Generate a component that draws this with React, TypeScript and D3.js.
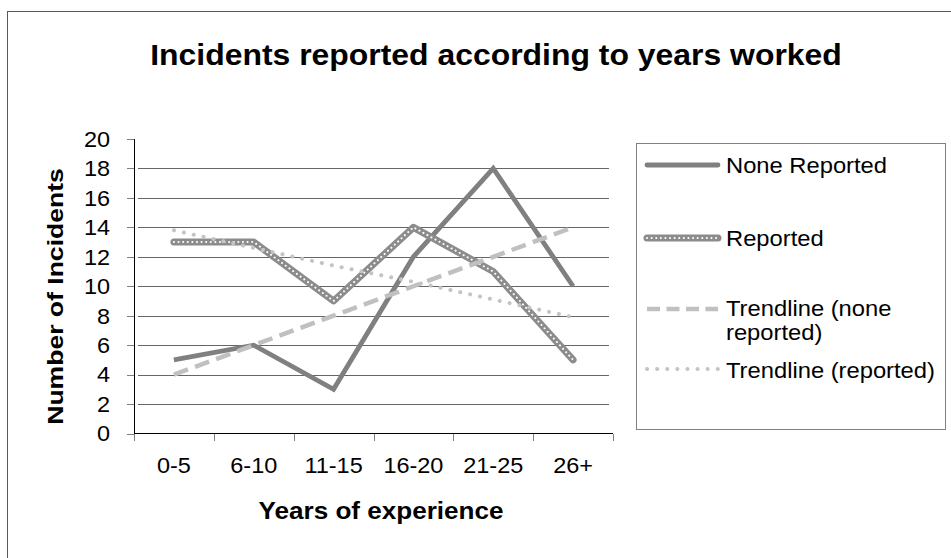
import React from "react";
import * as d3 from "d3";

const categories = ["0-5", "6-10", "11-15", "16-20", "21-25", "26+"];
const noneReported = [5, 6, 3, 12, 18, 10];
const reported = [13, 13, 9, 14, 11, 5];
const trendNone = [4, 6, 8, 10, 12, 14];
const trendReported = [13.8, 12.6, 11.4, 10.3, 9.1, 7.9];
const yTicks = [0, 2, 4, 6, 8, 10, 12, 14, 16, 18, 20];
const gridValues = [2, 4, 6, 8, 10, 12, 14, 16, 18];

const FONT = "'Liberation Sans', Arial, Helvetica, sans-serif";

export default function App() {
  const W = 951;
  const H = 558;
  const x = d3.scaleBand<string>().domain(categories).range([134, 613]).padding(0);
  const y = d3.scaleLinear().domain([0, 20]).range([433.5, 139]);
  const cx = (c: string) => (x(c) as number) + x.bandwidth() / 2;

  const line = d3
    .line<number>()
    .x((_, i) => cx(categories[i]))
    .y((d) => y(d));

  const xEdges = [...categories.map((c) => x(c) as number), 613];

  const legendItems = [
    { key: "none", lines: ["None Reported"], ly: 165, ty: [173] },
    { key: "rep", lines: ["Reported"], ly: 238, ty: [245.5] },
    { key: "tn", lines: ["Trendline (none", "reported)"], ly: 309, ty: [316, 339.5] },
    { key: "tr", lines: ["Trendline (reported)"], ly: 369, ty: [377.5] },
  ];

  const renderSample = (key: string, y0: number) => {
    const d = `M647,${y0}L718,${y0}`;
    if (key === "none")
      return <path d={d} stroke="#808080" strokeWidth={4.8} fill="none" strokeLinecap="round" />;
    if (key === "rep")
      return (
        <g>
          <path d={d} stroke="#8c8c8c" strokeWidth={7} fill="none" strokeLinecap="round" />
          <path d={d} stroke="#ffffff" strokeWidth={2} fill="none" strokeDasharray="0.1 4.5" strokeLinecap="round" />
        </g>
      );
    if (key === "tn")
      return <path d={d} stroke="#c0c0c0" strokeWidth={4.5} fill="none" strokeDasharray="13 6.5" />;
    return <path d={d} stroke="#c4c4c4" strokeWidth={4} fill="none" strokeDasharray="0.1 10" strokeLinecap="round" />;
  };

  return (
    <svg
      width={W}
      height={H}
      style={{ position: "absolute", left: 0, top: 0, background: "#fff" }}
      fontFamily={FONT}
    >
      <rect x={0} y={0} width={W} height={H} fill="#fff" />
      {/* outer frame */}
      <rect x={7.5} y={11.5} width={2000} height={2000} fill="none" stroke="#595959" strokeWidth={1} />

      {/* title */}
      <text
        transform={`translate(496,64.5) scale(1.064,1)`}
        textAnchor="middle"
        fontSize={30}
        fontWeight="bold"
        fill="#000"
      >
        Incidents reported according to years worked
      </text>

      {/* gridlines */}
      {gridValues.map((v) => (
        <line key={v} x1={138} x2={609} y1={Math.round(y(v)) + 0.5} y2={Math.round(y(v)) + 0.5} stroke="#666" strokeWidth={1} />
      ))}

      {/* y axis */}
      <line x1={134.5} x2={134.5} y1={139} y2={434} stroke="#000" strokeWidth={1} />
      {yTicks.map((v) => (
        <g key={v}>
          <line x1={127} x2={134} y1={Math.round(y(v)) + 0.5} y2={Math.round(y(v)) + 0.5} stroke="#808080" />
          <text
            transform={`translate(110,${y(v) + 7.8}) scale(1.067,1)`}
            textAnchor="end"
            fontSize={22}
            fill="#000"
          >
            {v}
          </text>
        </g>
      ))}

      {/* x axis */}
      <line x1={134} x2={613} y1={433.5} y2={433.5} stroke="#000" strokeWidth={1} />
      {xEdges.map((e, i) => (
        <line key={i} x1={Math.round(e) + 0.5} x2={Math.round(e) + 0.5} y1={434} y2={441} stroke="#808080" />
      ))}
      {categories.map((c) => (
        <text
          key={c}
          transform={`translate(${cx(c)},472.5) scale(1.067,1)`}
          textAnchor="middle"
          fontSize={22}
          fill="#000"
        >
          {c}
        </text>
      ))}

      {/* axis titles */}
      <text
        transform={`translate(381,518.5) scale(1.11,1)`}
        textAnchor="middle"
        fontSize={23.5}
        fontWeight="bold"
        fill="#000"
      >
        Years of experience
      </text>
      <text
        transform={`translate(63,296.5) rotate(-90) scale(1.18,1)`}
        textAnchor="middle"
        fontSize={22.5}
        fontWeight="bold"
        fill="#000"
      >
        Number of Incidents
      </text>

      {/* series */}
      <path d={line(noneReported) as string} fill="none" stroke="#808080" strokeWidth={4.8} strokeLinejoin="miter" />
      <path d={line(reported) as string} fill="none" stroke="#8c8c8c" strokeWidth={7} strokeLinejoin="round" strokeLinecap="round" />
      <path
        d={line(reported) as string}
        fill="none"
        stroke="#ffffff"
        strokeWidth={2}
        strokeDasharray="0.1 4.5"
        strokeLinecap="round"
      />
      <path d={line(trendNone) as string} fill="none" stroke="#c0c0c0" strokeWidth={4.5} strokeDasharray="15 7.5" />
      <path
        d={line(trendReported) as string}
        fill="none"
        stroke="#c4c4c4"
        strokeWidth={4}
        strokeDasharray="0.1 10"
        strokeLinecap="round"
      />

      {/* legend */}
      <rect x={636.5} y={143.5} width={309} height={286} fill="#fff" stroke="#808080" strokeWidth={1} />
      {legendItems.map((it) => (
        <g key={it.key}>
          {renderSample(it.key, it.ly)}
          {it.lines.map((t, j) => (
            <text
              key={j}
              transform={`translate(726,${it.ty[j]}) scale(1.08,1)`}
              fontSize={22}
              fill="#000"
            >
              {t}
            </text>
          ))}
        </g>
      ))}
    </svg>
  );
}
